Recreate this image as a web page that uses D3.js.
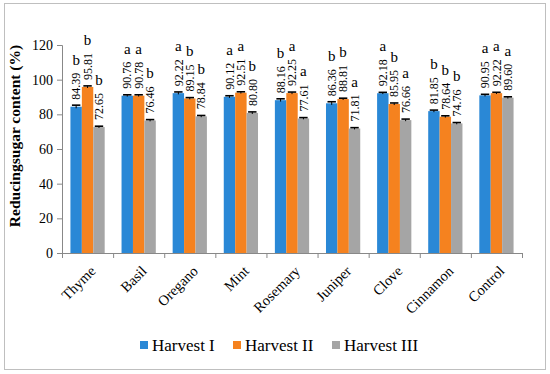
<!DOCTYPE html>
<html>
<head>
<meta charset="utf-8">
<script src="https://cdn.jsdelivr.net/npm/d3@7"></script>
<style>
  body { margin: 0; background: #fff; }
  svg, svg text { font-family: "Liberation Serif", "Times New Roman", "DejaVu Serif", serif; }
</style>
</head>
<body>
<svg width="550" height="374"></svg>
<script>
const categories = ["Thyme", "Basil", "Oregano", "Mint", "Rosemary", "Juniper", "Clove", "Cinnamon", "Control"];
const seriesNames = ["Harvest I", "Harvest II", "Harvest III"];
const harvest1 = [84.39, 90.76, 92.22, 90.12, 88.16, 86.36, 92.18, 81.85, 90.95];
const harvest2 = [95.81, 90.78, 89.15, 92.51, 92.25, 88.81, 85.95, 78.64, 92.22];
const harvest3 = [72.65, 76.46, 78.84, 80.80, 77.61, 71.81, 76.66, 74.76, 89.60];
const letters1 = ["b", "a", "a", "a", "b", "b", "a", "b", "a"];
const letters2 = ["b", "a", "b", "a", "a", "b", "b", "b", "a"];
const letters3 = ["b", "b", "b", "b", "a", "a", "a", "b", "a"];
const errors1 = [0.9, 0.5, 0.7, 0.6, 0.8, 0.9, 0.5, 0.6, 0.6];
const errors2 = [0.6, 0.5, 0.5, 0.5, 0.6, 0.5, 0.6, 0.5, 0.5];
const errors3 = [0.5, 0.5, 0.5, 0.6, 0.5, 0.5, 0.6, 0.5, 0.5];
const yTicks = [0, 20, 40, 60, 80, 100, 120];
const colors = ["#2a88d6", "#f5821f", "#a5a5a5"];

const values = [harvest1, harvest2, harvest3];
const letters = [letters1, letters2, letters3];
const errors = [errors1, errors2, errors3];

const FONT = "Liberation Serif, Times New Roman, DejaVu Serif, serif";
const svg = d3.select("svg").attr("font-family", FONT);

// outer frame
svg.append("rect").attr("x", 4.5).attr("y", 3.5).attr("width", 541).attr("height", 366)
  .attr("fill", "none").attr("stroke", "#bfbfbf");

const x = d3.scaleBand().domain(categories).range([62, 522]).paddingInner(0.33).paddingOuter(0.165);
const xs = d3.scaleBand().domain(d3.range(3)).range([0, x.bandwidth()]);
const y = d3.scaleLinear().domain([0, 120]).range([253, 45]);

// y axis
const yAxis = svg.append("g").attr("transform", "translate(62,0)")
  .call(d3.axisLeft(y).tickValues(yTicks).tickSize(5).tickPadding(4));
yAxis.attr("font-family", FONT).attr("font-size", 14);
yAxis.select(".domain").attr("stroke", "#888");
yAxis.selectAll(".tick line").attr("stroke", "#888");
yAxis.selectAll("text").attr("fill", "#000");

// x axis: ticks at band boundaries
const step = x.step();
const xg = svg.append("g");
xg.append("line").attr("x1", 62).attr("x2", 522).attr("y1", y(0) + 0.5).attr("y2", y(0) + 0.5).attr("stroke", "#888");
xg.selectAll("line.tk").data(d3.range(categories.length + 1)).enter().append("line")
  .attr("class", "tk")
  .attr("x1", i => 62 + i * step + 0.5).attr("x2", i => 62 + i * step + 0.5)
  .attr("y1", y(0)).attr("y2", y(0) + 5).attr("stroke", "#888");

xg.selectAll("text.cat").data(categories).enter().append("text")
  .attr("class", "cat")
  .attr("transform", d => `translate(${x(d) + x.bandwidth() / 2 + 9},${y(0) + 19}) rotate(-45)`)
  .attr("text-anchor", "end")
  .attr("font-size", 14.5)
  .text(d => d);

// bars
seriesNames.forEach((name, s) => {
  const g = svg.append("g");
  const data = categories.map((c, i) => ({ c: c, v: values[s][i], e: errors[s][i], l: letters[s][i] }));
  const bx = d => x(d.c) + xs(s);
  const bw = xs.bandwidth();

  g.selectAll("rect").data(data).enter().append("rect")
    .attr("x", bx).attr("width", bw)
    .attr("y", d => y(d.v)).attr("height", d => y(0) - y(d.v))
    .attr("fill", colors[s]);

  // error bars
  g.selectAll("line.err").data(data).enter().append("line")
    .attr("class", "err")
    .attr("x1", d => bx(d) + bw / 2).attr("x2", d => bx(d) + bw / 2)
    .attr("y1", d => y(d.v + d.e)).attr("y2", d => y(d.v - d.e))
    .attr("stroke", "#000").attr("stroke-width", 1);
  g.selectAll("line.cap").data(data).enter().append("line")
    .attr("class", "cap")
    .attr("x1", d => bx(d) + 1.5).attr("x2", d => bx(d) + bw - 1.5)
    .attr("y1", d => y(d.v + d.e)).attr("y2", d => y(d.v + d.e))
    .attr("stroke", "#000").attr("stroke-width", 1.6);

  // value labels (vertical)
  g.selectAll("text.val").data(data).enter().append("text")
    .attr("class", "val")
    .attr("transform", d => `translate(${bx(d) + bw / 2},${y(d.v) - 7}) rotate(-90)`)
    .attr("dy", "0.35em")
    .attr("font-size", 12)
    .text(d => d.v.toFixed(2));

  // significance letters
  g.selectAll("text.let").data(data).enter().append("text")
    .attr("class", "let")
    .attr("x", d => bx(d) + bw / 2)
    .attr("y", d => y(d.v) - 7 - 26 - 9)
    .attr("text-anchor", "middle")
    .attr("font-size", 15)
    .text(d => d.l);
});

// y title
svg.append("text")
  .attr("transform", "translate(20,136) rotate(-90)")
  .attr("text-anchor", "middle")
  .attr("font-weight", "bold")
  .attr("font-size", 15.5)
  .text("Reducingsugar content (%)");

// legend
const legendX = [140, 233, 332];
const legend = svg.append("g");
seriesNames.forEach((name, s) => {
  legend.append("rect").attr("x", legendX[s]).attr("y", 341).attr("width", 8).attr("height", 8).attr("fill", colors[s]);
  legend.append("text").attr("x", legendX[s] + 12).attr("y", 350.5).attr("font-size", 17).text(name);
});
</script>
</body>
</html>
